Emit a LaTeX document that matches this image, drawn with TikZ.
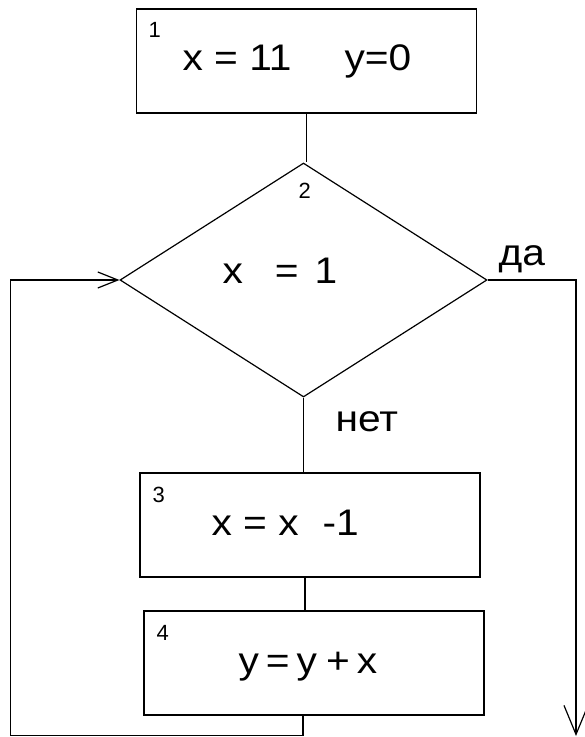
\documentclass[tikz,border=0pt]{standalone}
\usepackage{fontspec}
\newfontfamily\flowfont[FakeStretch=1.1]{Liberation Sans}
\newfontfamily\numfont{Liberation Sans}
\usetikzlibrary{shapes.geometric,arrows.meta}
\tikzset{>={Straight Barb[length=29pt,width=24pt]}}
\tikzset{
  block/.style={draw,line width=1.5pt,minimum width=340pt,minimum height=104pt,inner sep=0pt},
  decision/.style={draw,diamond,minimum width=367pt,minimum height=234pt,inner sep=0pt},
  txt/.style={anchor=base west,inner sep=0pt,font=\flowfont\fontsize{37}{44}\selectfont},
  num/.style={anchor=base west,inner sep=0pt,font=\numfont\fontsize{22}{26}\selectfont}
}

\begin{document}
\begin{tikzpicture}[x=1pt,y=-1pt,line width=1.2pt]
\useasboundingbox (0,0) rectangle (585,737);
% blocks
\node[block] (init) at (306.5,61) {};
\node[decision] (test) at (303.5,280) {};
\node[block] (dec) at (310,525) {};
\node[block] (add) at (314,663) {};
% texts
\node[txt] (initx) at (182,70) {x = 11\hspace{53pt}y=0};
\node[txt] (testx) at (222,283) {x\hspace{32pt}=\hspace{16pt}1};
\node[txt] (decx) at (211,535) {x = x\hspace{24pt}-1};
\node[txt] (addx) at (238,673) {y\hspace{7pt}=\hspace{7pt}y\hspace{9pt}+\hspace{7pt}x};
\node[txt] (yes) at (498,265) {да};
\node[txt] (no) at (335,431) {нет};
\node[num] (n1) at (148,37) {1};
\node[num] (n2) at (298,198) {2};
\node[num] (n3) at (152,502) {3};
\node[num] (n4) at (156,640) {4};
% connectors
\coordinate (loopl) at (10.5,735.5);
\coordinate (yesend) at (576,736);
\draw (init.south) -- (init.south |- test.north);
\draw (test.south) -- (test.south |- dec.north);
\draw ([xshift=-5pt]dec.south) -- ([xshift=-5pt]dec.south |- add.north);
\draw[->,>={Straight Barb[length=20pt,width=16pt]}] ([xshift=-11pt]add.south) |- (loopl) |- (test.west);
\draw[->] (test.east) -| (yesend);
\end{tikzpicture}
\end{document}
